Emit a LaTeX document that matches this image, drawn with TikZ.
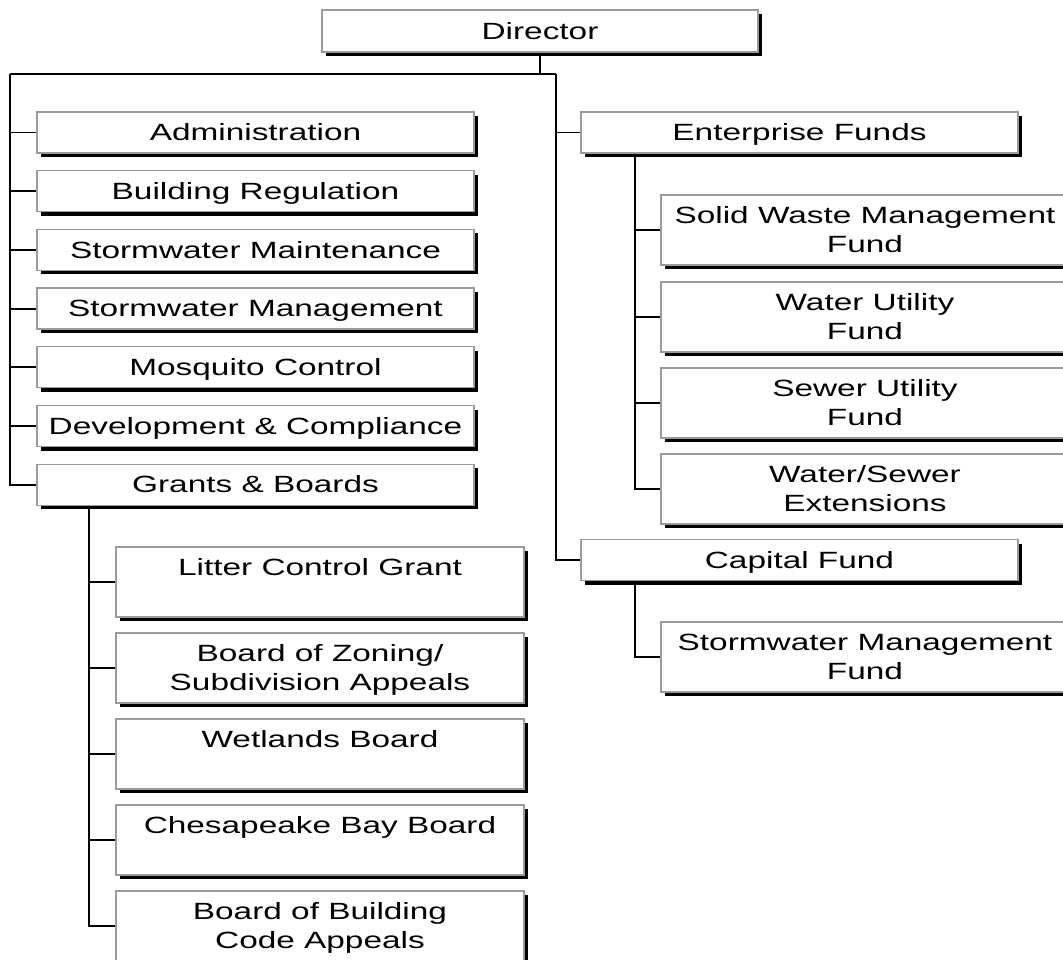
\documentclass[tikz,border=0pt]{standalone}
\usepackage{fontspec}
\usepackage{graphicx}
\setmainfont{Liberation Sans}
\usetikzlibrary{shadows}
\definecolor{bordergray}{RGB}{155,155,155}
\newcommand{\wt}[1]{\raisebox{-2.5pt}[\height][\depth]{\scalebox{1.42}[1]{\begin{tabular}{@{}c@{}}#1\end{tabular}}}}
\begin{document}
\begin{tikzpicture}[x=1pt,y=-1pt,
  orgbox/.style={draw=bordergray, line width=1.3pt, fill=white, inner sep=0pt,
    general shadow={fill=black, shadow xshift=4pt, shadow yshift=-4pt},
    font=\fontsize{23.5}{28.5}\selectfont},
  shortbox/.style={orgbox, minimum width=437pt, minimum height=41pt},
  tallbox/.style={orgbox, minimum width=408pt, minimum height=70pt},
  link/.style={draw=black, line width=1.8pt}]
\useasboundingbox (0,0) rectangle (1063,960);

% top
\node[orgbox, minimum width=436pt, minimum height=42pt] (dir) at (540,31) {\wt{Director}};

% left column
\node[shortbox] (adm) at (255.5,132.5) {\wt{Administration}};
\node[shortbox] (bld) at (255.5,191.2) {\wt{Building Regulation}};
\node[shortbox] (smt) at (255.5,249.9) {\wt{Stormwater Maintenance}};
\node[shortbox] (smg) at (255.5,308.6) {\wt{Stormwater Management}};
\node[shortbox] (mos) at (255.5,367.3) {\wt{Mosquito Control}};
\node[shortbox] (dev) at (255.5,426) {\wt{Development \& Compliance}};
\node[shortbox] (gnb) at (255.5,484.7) {\wt{Grants \& Boards}};

% grants & boards
\node[tallbox] (lit) at (320,582) {\wt{Litter Control Grant\\ \strut}};
\node[tallbox] (zon) at (320,668) {\wt{Board of Zoning/\\Subdivision Appeals}};
\node[tallbox] (wet) at (320,754) {\wt{Wetlands Board\\ \strut}};
\node[tallbox] (che) at (320,840) {\wt{Chesapeake Bay Board\\ \strut}};
\node[tallbox] (bbc) at (320,926) {\wt{Board of Building\\Code Appeals}};

% right column
\node[shortbox] (ent) at (799.5,132.5) {\wt{Enterprise Funds}};
\node[tallbox] (sw) at (865,230) {\wt{Solid Waste Management\\Fund}};
\node[tallbox] (wu) at (865,317) {\wt{Water Utility\\Fund}};
\node[tallbox] (su) at (865,403) {\wt{Sewer Utility\\Fund}};
\node[tallbox] (wse) at (865,489) {\wt{Water/Sewer\\Extensions}};
\node[shortbox] (cap) at (799.5,560) {\wt{Capital Fund}};
\node[tallbox] (smf) at (865,657) {\wt{Stormwater Management\\Fund}};

% junctions
\coordinate (jl) at (10,74);
\coordinate (jr) at (556,74);
\coordinate (gx) at (89,0);
\coordinate (ex) at (635,0);

% connectors
\draw[link] (dir.south) -- (dir.south |- jl);
\draw[link] (jl) -- (jr);
\draw[link] (jl) |- (gnb.west);
\foreach \n in {adm,bld,smt,smg,mos,dev} \draw[link] (jl |- \n) -- (\n.west);
\draw[link] (jr) |- (cap.west);
\draw[link] (jr |- ent) -- (ent.west);

\draw[link] (gx |- gnb.south) |- (bbc.west);
\foreach \n in {lit,zon,wet,che} \draw[link] (gx |- \n) -- (\n.west);

\draw[link] (ex |- ent.south) |- (wse.west);
\foreach \n in {sw,wu,su} \draw[link] (ex |- \n) -- (\n.west);
\draw[link] (ex |- cap.south) |- (smf.west);
\end{tikzpicture}
\end{document}
